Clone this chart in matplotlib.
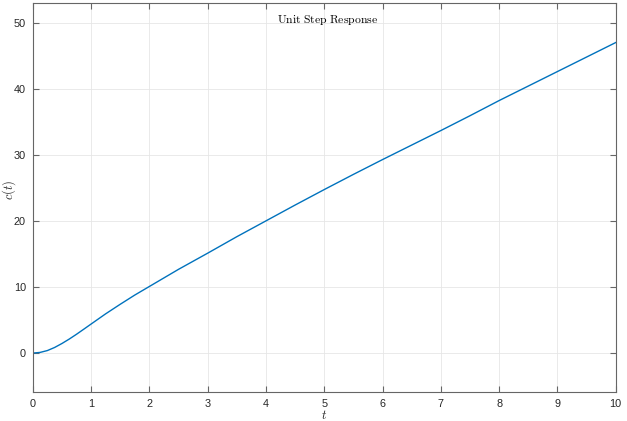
import matplotlib
matplotlib.use("Agg")
import matplotlib.pyplot as plt

plt.rcParams['mathtext.fontset'] = 'cm'
plt.rcParams['font.family'] = ['Liberation Sans', 'DejaVu Sans']

t = [0, 0.125, 0.25, 0.375, 0.5, 0.625, 0.75, 0.875, 1.0, 1.25, 1.5, 1.75, 2.0,
     2.5, 3.0, 3.5, 4.0, 4.5, 5.0, 5.5, 6.0, 6.5, 7.0, 7.5, 8.0, 8.5, 9.0, 9.5, 10.0]
c = [0.0, 0.1, 0.38, 0.85, 1.45, 2.12, 2.85, 3.62, 4.4, 5.95, 7.4, 8.8, 10.1,
     12.7, 15.15, 17.65, 20.05, 22.45, 24.8, 27.1, 29.35, 31.55, 33.75, 36.0, 38.3, 40.5, 42.7, 44.9, 47.1]
xticks = list(range(0, 11))
yticks = [0, 10, 20, 30, 40, 50]

fig = plt.figure(figsize=(6.27, 4.21), dpi=100)
ax = fig.add_axes([0.0522, 0.0689, 0.9298, 0.924])
ax.plot(t, c, color='#0072BD', linewidth=1.0)
ax.set_xlim(0, 10)
ax.set_ylim(-5.9, 53.1)
ax.set_xticks(xticks)
ax.set_yticks(yticks)
ax.grid(True, color='#e6e6e6', linewidth=0.6)
ax.set_axisbelow(True)
for s in ax.spines.values():
    s.set_color('#666666')
    s.set_linewidth(0.8)
ax.tick_params(direction='in', top=True, right=True, length=4, width=0.8,
               color='#666666', labelsize=7.8, labelcolor='#262626', pad=5)
ax.set_xlabel(r'$t$', fontsize=9, color='#262626')
ax.set_ylabel(r'$c(t)$', fontsize=9, color='#262626')
ax.xaxis.set_label_coords(0.5, -0.045)
ax.yaxis.set_label_coords(-0.026, 0.519)
ax.text(0.506, 0.956, r'$\mathrm{Unit\ Step\ Response}$', transform=ax.transAxes,
        ha='center', va='center', fontsize=8.4, color='#000000')
fig.savefig('out.png', dpi=100)
